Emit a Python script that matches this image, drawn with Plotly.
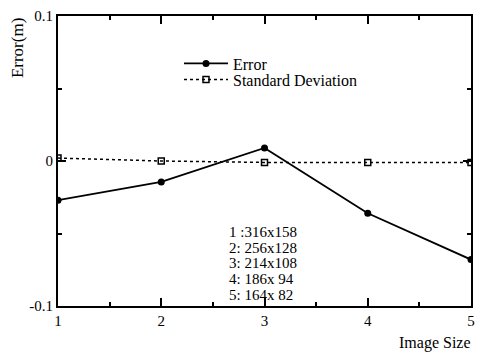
import plotly.graph_objects as go

image_size = [1, 2, 3, 4, 5]
error = [-0.027, -0.0144, 0.009, -0.036, -0.068]
std_dev = [0.002, 0.0, -0.001, -0.001, -0.001]
size_labels = ["1 :316x158", "2: 256x128", "3: 214x108", "4: 186x 94", "5: 164x 82"]

FONT = "Liberation Serif"

fig = go.Figure()
fig.add_trace(go.Scatter(
    x=image_size, y=error, name="Error", mode="lines+markers",
    line=dict(color="black", width=1.8),
    marker=dict(symbol="circle", size=7, color="black"),
    legend="legend",
))
fig.add_trace(go.Scatter(
    x=image_size, y=std_dev, name="Standard Deviation", mode="lines+markers",
    line=dict(color="black", width=1.5, dash="dot"),
    marker=dict(symbol="square-open", size=6, color="black", line=dict(width=1.5)),
    legend="legend2",
))

leg_common = dict(xanchor="left", yanchor="middle", bgcolor="rgba(0,0,0,0)",
                  itemwidth=44, font=dict(family=FONT, size=16))

fig.update_layout(
    width=483, height=354,
    margin=dict(l=58, r=8, t=11, b=48),
    plot_bgcolor="white", paper_bgcolor="white",
    font=dict(family=FONT, size=15, color="black"),
    showlegend=True,
    legend=dict(x=0.293, y=0.836, **leg_common),
    legend2=dict(x=0.293, y=0.781, **leg_common),
    xaxis=dict(range=[1, 5], tickvals=image_size, ticktext=[str(v) for v in image_size],
               showgrid=False, zeroline=False, showline=True, linecolor="black",
               linewidth=2, mirror="allticks", ticks="inside", ticklen=8,
               tickcolor="black", tickwidth=1.5,
               minor=dict(dtick=0.5, ticks="inside", ticklen=4, tickcolor="black", showgrid=False),
               tickfont=dict(family=FONT, size=15)),
    yaxis=dict(range=[-0.1, 0.1], tickvals=[-0.1, 0, 0.1], ticktext=["-0.1", "0", "0.1"],
               showgrid=False, zeroline=False, showline=True, linecolor="black",
               linewidth=2, mirror="allticks", ticks="inside", ticklen=8,
               tickcolor="black", tickwidth=1.5,
               minor=dict(dtick=0.05, ticks="inside", ticklen=4, tickcolor="black", showgrid=False),
               tickfont=dict(family=FONT, size=15)),
)

fig.add_annotation(text="Error(m)", xref="paper", yref="paper", x=-0.099, y=1.0,
                   xanchor="center", yanchor="top", textangle=-90, showarrow=False,
                   font=dict(family=FONT, size=17))
fig.add_annotation(text="Image Size", xref="paper", yref="paper", x=1.005, y=-0.09,
                   xanchor="right", yanchor="top", showarrow=False,
                   font=dict(family=FONT, size=16))
for i, lab in enumerate(size_labels):
    fig.add_annotation(text=lab, xref="paper", yref="paper",
                       x=0.41, y=0.255 - i * 0.054, xanchor="left", yanchor="middle",
                       align="left", showarrow=False, font=dict(family=FONT, size=15))

fig.write_html("out.html", config={"displayModeBar": False},
               post_script="document.body.style.margin='0';")
